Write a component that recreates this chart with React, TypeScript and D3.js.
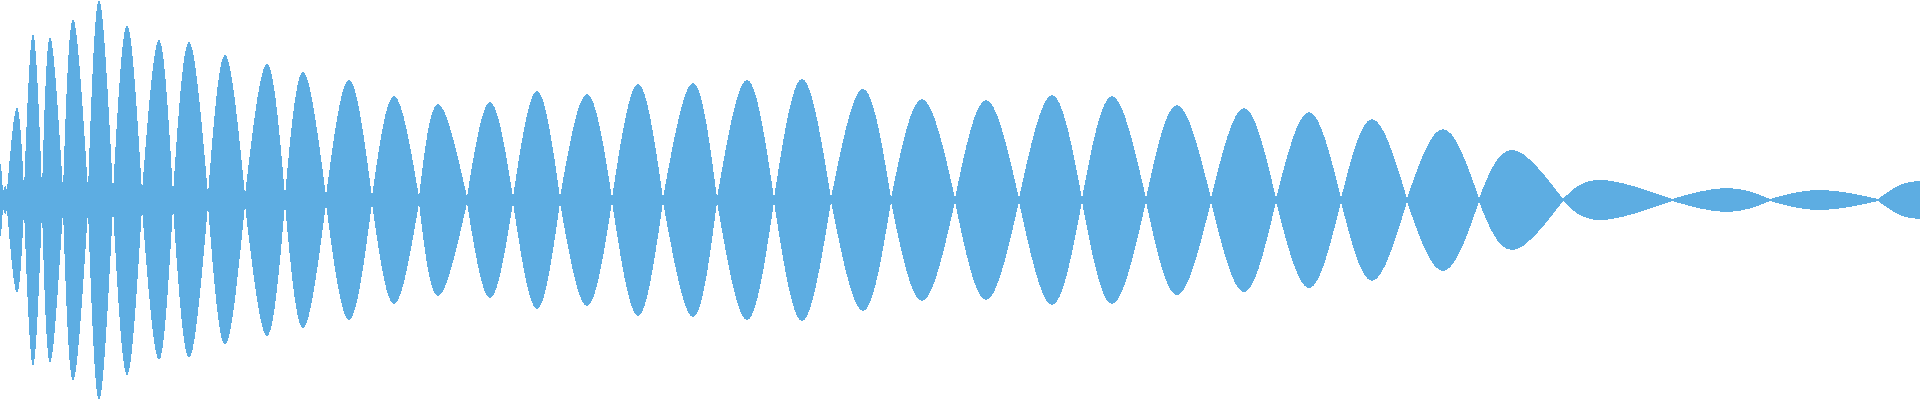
import React from 'react';
import * as d3 from 'd3';

// frame index where each lobe of the waveform starts/ends (near zero crossings)
const boundaries = [
  0, 3, 7, 24, 42, 63, 88, 113, 142, 173, 208, 245, 285, 326, 372, 419, 467, 513, 560,
  612, 663, 717, 774, 831, 891, 955, 1019, 1082, 1146, 1211, 1276, 1341, 1407, 1479,
  1563, 1672, 1770, 1878, 1920,
];

// residual amplitude left at each boundary (normalised 0..1)
const boundaryAmps = [
  0.12, 0.04, 0.05, 0.05, 0.05, 0.05, 0.05, 0.04, 0.04, 0.03, 0.025, 0.025, 0.02, 0.02,
  0.015, 0.015, 0.015, 0.015, 0.015, 0.01, 0.01, 0.01, 0.01, 0.01, 0.01, 0.008, 0.008,
  0.008, 0.008, 0.008, 0.008, 0.008, 0.008, 0.008, 0.005, 0.005, 0.005, 0.005, 0.095,
];

// peak of each lobe: frame and amplitude
const peakFrames = [
  0.8, 5, 17, 33, 50, 73, 99, 127, 159, 189, 225, 267, 303, 349, 394, 438, 490, 537, 587,
  638, 693, 747, 802, 863, 922, 986, 1052, 1112, 1177, 1244, 1309, 1372, 1443, 1512,
  1600, 1727, 1820, 1900,
];
const peakAmps = [
  0.18, 0.07, 0.465, 0.83, 0.815, 0.905, 1.0, 0.875, 0.8, 0.79, 0.725, 0.68, 0.64, 0.6,
  0.52, 0.48, 0.49, 0.545, 0.53, 0.58, 0.585, 0.6, 0.605, 0.555, 0.505, 0.5, 0.525, 0.52,
  0.475, 0.46, 0.44, 0.405, 0.355, 0.25, 0.1, 0.06, 0.05, 0.075,
];

const width = 1920;
const height = 400;

export default function App() {
  const x = d3.scaleLinear().domain([0, 1920]).range([0, width]);
  const y = d3.scaleLinear().domain([-1, 1]).range([height, 0]);

  const lobes = peakFrames.map((p, i) => [
    { t: boundaries[i], a: boundaryAmps[i] },
    { t: p, a: peakAmps[i] },
    { t: boundaries[i + 1], a: boundaryAmps[i + 1] },
  ]);

  const area = d3.area<{ t: number; a: number }>()
    .x(d => x(d.t))
    .y0(d => y(-d.a))
    .y1(d => y(d.a))
    .curve(d3.curveNatural);

  return (
    <svg
      width={width}
      height={height}
      style={{ position: 'absolute', left: 0, top: 0, display: 'block' }}
    >
      <g fill="#5dade2" shapeRendering="crispEdges">
        {lobes.map((l, i) => (
          <path key={i} d={area(l) || ''} />
        ))}
      </g>
    </svg>
  );
}
